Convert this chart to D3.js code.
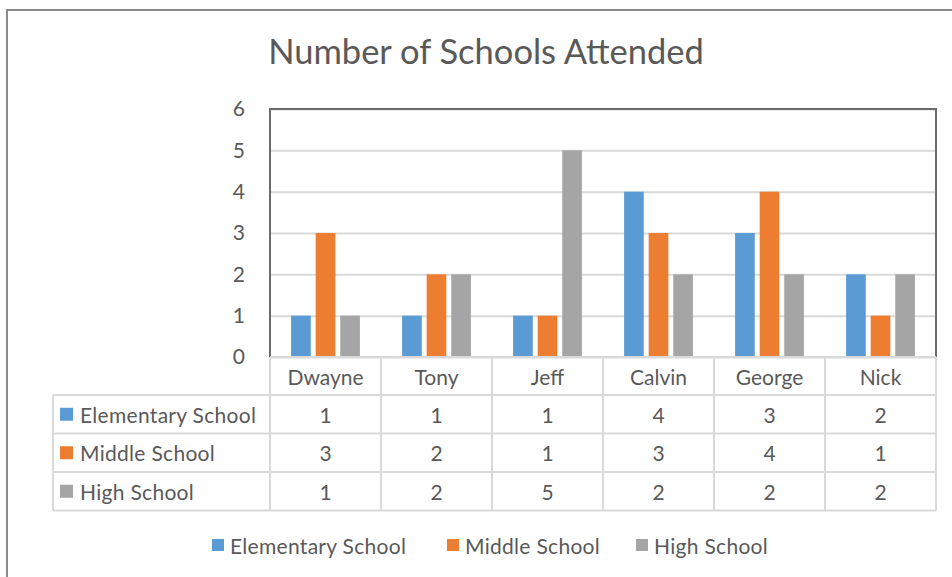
<!DOCTYPE html>
<html>
<head>
<meta charset="utf-8">
<script src="https://cdn.jsdelivr.net/npm/d3@7"></script>
<style>
  html, body { margin: 0; padding: 0; background: #fff; }
  svg { display: block; font-family: Lato, "Open Sans", sans-serif; }
</style>
</head>
<body>
<svg id="chart" width="952" height="577"></svg>
<script>
// Chart data
const title = "Number of Schools Attended";
const students = ["Dwayne", "Tony", "Jeff", "Calvin", "George", "Nick"];
const seriesNames = ["Elementary School", "Middle School", "High School"];
const elementary = [1, 1, 1, 4, 3, 2];
const middle = [3, 2, 1, 3, 4, 1];
const high = [1, 2, 5, 2, 2, 2];
const seriesColors = ["#5B9BD5", "#ED7D31", "#A5A5A5"];
const yTicks = [0, 1, 2, 3, 4, 5, 6];

const seriesValues = [elementary, middle, high];
const series = seriesNames.map((name, i) => ({ name, color: seriesColors[i], values: seriesValues[i] }));

const svg = d3.select("#chart");
const textColor = "#595959";
const gridColor = "#D9D9D9";
const fontSize = 21;

// Layout
const plot = { left: 270, right: 936, top: 109, bottom: 357 };
const table = { left: 53, rowH: 38.5, headerH: 38 };

// Outer chart frame
svg.append("rect")
  .attr("x", 7).attr("y", 10)
  .attr("width", 960).attr("height", 600)
  .attr("fill", "#fff")
  .attr("stroke", "#8a8a8a").attr("stroke-width", 2);

// Title
svg.append("text")
  .attr("x", 486).attr("y", 64)
  .attr("text-anchor", "middle")
  .attr("font-size", 34.5)
  .attr("fill", textColor)
  .text(title);

// Scales
const x0 = d3.scaleBand().domain(students).range([plot.left, plot.right]).padding(0);
const groupW = x0.bandwidth() * 0.62;
const x1 = d3.scaleBand().domain(seriesNames)
  .range([(x0.bandwidth() - groupW) / 2, (x0.bandwidth() + groupW) / 2])
  .paddingInner(0.2).paddingOuter(0);
const y = d3.scaleLinear().domain([0, 6]).range([plot.bottom, plot.top]);

// Horizontal gridlines
const grid = svg.append("g")
  .attr("transform", `translate(${plot.left},0)`)
  .call(d3.axisLeft(y).tickValues(yTicks).tickSize(-(plot.right - plot.left)).tickFormat(""));
grid.select(".domain").remove();
grid.selectAll(".tick line").attr("stroke", gridColor).attr("stroke-width", 2);

// Y axis labels
const yAxis = svg.append("g")
  .attr("transform", `translate(${plot.left - 25},0)`)
  .call(d3.axisLeft(y).tickValues(yTicks).tickFormat(d3.format("d")).tickSize(0).tickPadding(0));
yAxis.select(".domain").remove();
yAxis.selectAll(".tick text")
  .attr("font-family", "Lato, sans-serif")
  .attr("font-size", fontSize)
  .attr("fill", textColor);

// Bars
const groups = svg.append("g").selectAll("g")
  .data(students)
  .join("g")
  .attr("transform", d => `translate(${x0(d)},0)`);

groups.selectAll("rect")
  .data((d, i) => series.map(s => ({ name: s.name, color: s.color, value: s.values[i] })))
  .join("rect")
  .attr("x", d => x1(d.name))
  .attr("y", d => y(d.value))
  .attr("width", x1.bandwidth())
  .attr("height", d => y(0) - y(d.value))
  .attr("fill", d => d.color);

// Plot area border (top, left, right)
svg.append("path")
  .attr("d", `M${plot.left},${plot.bottom} V${plot.top} H${plot.right} V${plot.bottom}`)
  .attr("fill", "none")
  .attr("stroke", "#6b6b6b")
  .attr("stroke-width", 2);

// Data table
const tableTop = plot.bottom + table.headerH;
const tableBottom = tableTop + table.rowH * series.length;
const tg = svg.append("g");

// horizontal rules
tg.append("line").attr("x1", plot.left).attr("x2", plot.right)
  .attr("y1", plot.bottom).attr("y2", plot.bottom).attr("stroke", gridColor).attr("stroke-width", 2);
d3.range(series.length + 1).forEach(r => {
  const yy = tableTop + r * table.rowH;
  tg.append("line").attr("x1", table.left).attr("x2", plot.right)
    .attr("y1", yy).attr("y2", yy).attr("stroke", gridColor).attr("stroke-width", 2);
});
// vertical rules
tg.append("line").attr("x1", table.left).attr("x2", table.left)
  .attr("y1", tableTop).attr("y2", tableBottom).attr("stroke", gridColor).attr("stroke-width", 2);
students.forEach(s => {
  tg.append("line").attr("x1", x0(s)).attr("x2", x0(s))
    .attr("y1", plot.bottom).attr("y2", tableBottom).attr("stroke", gridColor).attr("stroke-width", 2);
});
tg.append("line").attr("x1", plot.right).attr("x2", plot.right)
  .attr("y1", plot.bottom).attr("y2", tableBottom).attr("stroke", gridColor).attr("stroke-width", 2);

// Category header row
const xAxis = svg.append("g")
  .attr("transform", `translate(0,${plot.bottom})`)
  .call(d3.axisBottom(x0).tickSize(0).tickPadding(0));
xAxis.select(".domain").remove();
xAxis.selectAll(".tick text")
  .attr("font-family", "Lato, sans-serif")
  .attr("font-size", fontSize)
  .attr("fill", textColor)
  .attr("dy", null)
  .attr("y", table.headerH / 2)
  .attr("dominant-baseline", "central");

// Series rows
series.forEach((s, r) => {
  const cy = tableTop + r * table.rowH + table.rowH / 2;
  tg.append("rect").attr("x", 60).attr("y", cy - 6.5).attr("width", 13).attr("height", 13).attr("fill", s.color);
  tg.append("text").attr("x", 80).attr("y", cy)
    .attr("dominant-baseline", "central")
    .attr("letter-spacing", 0.3)
    .attr("font-size", fontSize).attr("fill", textColor).text(s.name);
  s.values.forEach((v, i) => {
    tg.append("text")
      .attr("x", x0(students[i]) + x0.bandwidth() / 2).attr("y", cy)
      .attr("text-anchor", "middle").attr("dominant-baseline", "central")
      .attr("font-size", fontSize).attr("fill", textColor).text(v);
  });
});

// Legend
const legendX = [212, 447, 636];
const legend = svg.append("g");
series.forEach((s, i) => {
  const g = legend.append("g").attr("transform", `translate(${legendX[i]},545)`);
  g.append("rect").attr("x", 0).attr("y", -6).attr("width", 12).attr("height", 12).attr("fill", s.color);
  g.append("text").attr("x", 18).attr("y", 0)
    .attr("dominant-baseline", "central")
    .attr("letter-spacing", 0.3)
    .attr("font-size", fontSize).attr("fill", textColor).text(s.name);
});
</script>
</body>
</html>
